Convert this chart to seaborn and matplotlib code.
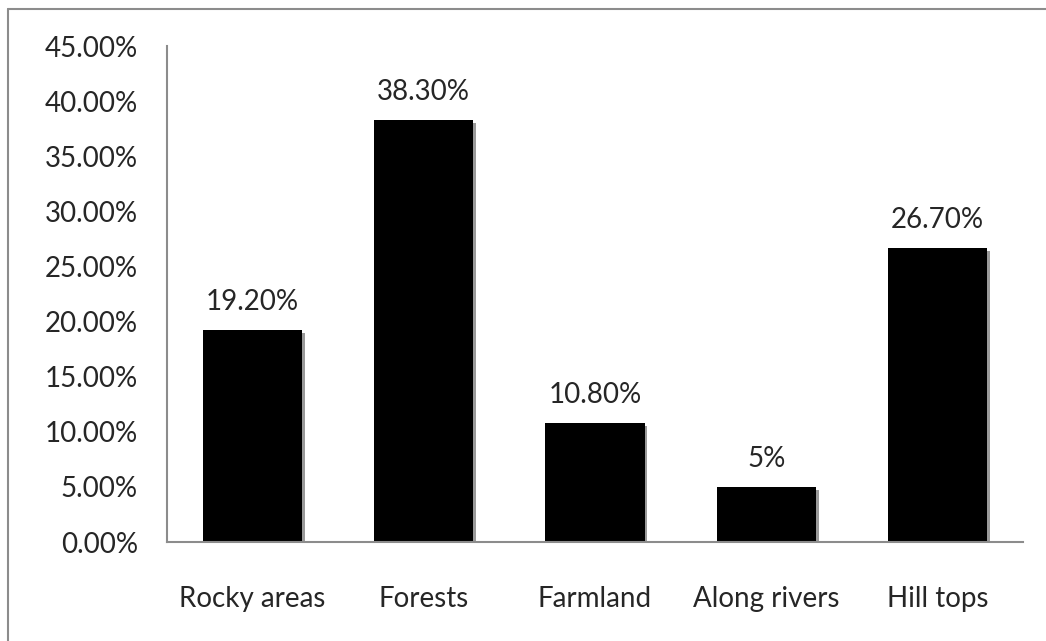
import matplotlib
matplotlib.use("Agg")
import matplotlib.pyplot as plt
import matplotlib.patheffects as pe
from matplotlib.lines import Line2D
import seaborn as sns
import pandas as pd

categories = ["Rocky areas", "Forests", "Farmland", "Along rivers", "Hill tops"]
shares = [19.2, 38.3, 10.8, 5.0, 26.7]
value_labels = ["19.20%", "38.30%", "10.80%", "5%", "26.70%"]
y_ticks = [0, 5, 10, 15, 20, 25, 30, 35, 40, 45]
y_tick_labels = ["0.00%", "5.00%", "10.00%", "15.00%", "20.00%",
                 "25.00%", "30.00%", "35.00%", "40.00%", "45.00%"]

df = pd.DataFrame({"category": categories, "share": shares})

sns.set_theme(style="white")
plt.rcParams["font.family"] = ["Lato", "DejaVu Sans"]

fig = plt.figure(figsize=(10.46, 6.41), dpi=100)
ax = fig.add_axes([0.1597, 0.1544, 0.8183, 0.7736])

sns.barplot(data=df, x="category", y="share", color="black",
            width=0.58, saturation=1, ax=ax)

# soft grey drop shadow on each bar
for patch in ax.patches:
    patch.set_edgecolor("none")
    patch.set_path_effects([
        pe.SimplePatchShadow(offset=(2, -2), shadow_rgbFace="#9a9a9a", alpha=1.0),
        pe.Normal(),
    ])

ax.set_ylim(0, 45)
ax.set_xlim(-0.5, 4.5)
ax.set_yticks(y_ticks)
ax.set_yticklabels(y_tick_labels)
ax.set_xlabel("")
ax.set_ylabel("")

ax.tick_params(axis="y", length=0, pad=21, labelsize=20, labelcolor="#262626")
ax.tick_params(axis="x", length=0, pad=32, labelsize=20, labelcolor="#262626")

for side in ("top", "right"):
    ax.spines[side].set_visible(False)
for side in ("left", "bottom"):
    ax.spines[side].set_color("#8c8c8c")
    ax.spines[side].set_linewidth(1.5)

for patch, text in zip(ax.patches, value_labels):
    x = patch.get_x() + patch.get_width() / 2
    ax.annotate(text, (x, patch.get_height()), xytext=(0, 11),
                textcoords="offset points", ha="center", va="bottom",
                fontsize=20, color="#262626")

# outer chart frame
frame_color = "#8c8c8c"
fig.add_artist(Line2D([8 / 1046, 8 / 1046], [0, 1 - 9 / 641],
                      transform=fig.transFigure, color=frame_color, lw=1.5))
fig.add_artist(Line2D([8 / 1046, 1], [1 - 9 / 641, 1 - 9 / 641],
                      transform=fig.transFigure, color=frame_color, lw=1.5))

fig.savefig("out.png", dpi=100, facecolor="white")
